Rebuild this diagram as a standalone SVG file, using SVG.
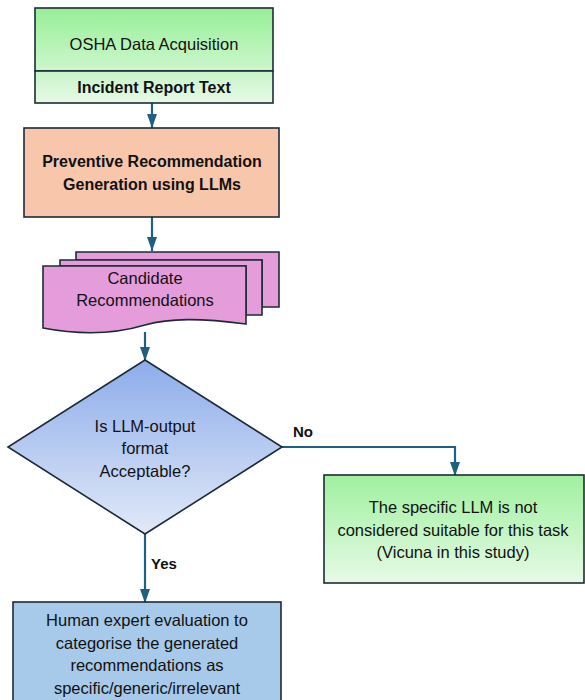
<svg xmlns="http://www.w3.org/2000/svg" width="585" height="700" viewBox="0 0 585 700">
<style>
.box{stroke:#1d2b36;stroke-width:1.6}
.t{font-family:"Liberation Sans",Arial,sans-serif;font-size:16.5px;fill:#111;text-anchor:middle}
.b{font-weight:bold;font-size:16px}
.c{fill:none;stroke:#1f5f80;stroke-width:2.2}
.lbl{font-family:"Liberation Sans",Arial,sans-serif;font-size:15px;font-weight:bold;fill:#111}
</style>
<defs>
<linearGradient id="g1" x1="0" y1="0" x2="0" y2="1"><stop offset="0" stop-color="#97ef97"/><stop offset="1" stop-color="#cdf6cd"/></linearGradient>
<linearGradient id="g2" x1="0" y1="0" x2="0" y2="1"><stop offset="0" stop-color="#c7f4c7"/><stop offset="1" stop-color="#e6fae6"/></linearGradient>
<linearGradient id="g3" x1="0" y1="0" x2="0" y2="1"><stop offset="0" stop-color="#8cacea"/><stop offset="1" stop-color="#e2e9f8"/></linearGradient>
<linearGradient id="g4" x1="0" y1="0" x2="0" y2="1"><stop offset="0" stop-color="#9ff09f"/><stop offset="1" stop-color="#e6fae6"/></linearGradient>
<marker id="ah" viewBox="0 0 14 10" refX="14" refY="5" markerWidth="6.5" markerHeight="4.6" orient="auto" markerUnits="strokeWidth"><path d="M0,0 L14,5 L0,10 z" fill="#1f5f80"/></marker>
</defs>
<g id="connectors">
<path class="c" d="M152,103 V128" marker-end="url(#ah)"/>
<path class="c" d="M152,217 V251" marker-end="url(#ah)"/>
<path class="c" d="M145,332 V361" marker-end="url(#ah)"/>
<path class="c" d="M282,447 H455 V476" marker-end="url(#ah)"/>
<path class="c" d="M145,534 V603" marker-end="url(#ah)"/>
<text class="lbl" x="293" y="437">No</text>
<text class="lbl" x="151" y="569">Yes</text>
</g>
<g id="osha">
<rect class="box" x="35" y="8" width="238" height="63" fill="url(#g1)"/>
<rect class="box" x="35" y="71" width="238" height="32" fill="url(#g2)"/>
<text class="t" x="154" y="50">OSHA Data Acquisition</text>
<text class="t b" x="154" y="93">Incident Report Text</text>
</g>
<g id="generation">
<rect class="box" x="24" y="128" width="255" height="89" fill="#f7c6ab"/>
<text class="t b" x="152" y="167">Preventive Recommendation</text>
<text class="t b" x="152" y="190">Generation using LLMs</text>
</g>
<g id="candidates">
<path class="box" d="M76,252 H279 V307 H262 V260 H76 Z" fill="#e49cdb"/>
<path class="box" d="M60,260 H262 V315 H246 V266 H60 Z" fill="#e49cdb"/>
<path class="box" d="M43,266 H246 V324 C200,318 170,318 145,325 C115,334 80,335 43,328 Z" fill="#e49cdb"/>
<text class="t" x="145" y="284">Candidate</text>
<text class="t" x="145" y="306">Recommendations</text>
</g>
<g id="decision">
<path class="box" d="M145,360 L282,447 L145,534 L8,447 Z" fill="url(#g3)"/>
<text class="t" x="145" y="432">Is LLM-output</text>
<text class="t" x="145" y="454">format</text>
<text class="t" x="145" y="477">Acceptable?</text>
</g>
<g id="unsuitable">
<rect class="box" x="324" y="475" width="260" height="108" fill="url(#g4)"/>
<text class="t" x="453" y="513">The specific LLM is not</text>
<text class="t" x="453" y="536">considered suitable for this task</text>
<text class="t" x="453" y="558">(Vicuna in this study)</text>
</g>
<g id="evaluation">
<rect class="box" x="13" y="602" width="268" height="110" fill="#a7c9ea"/>
<text class="t" x="147" y="626">Human expert evaluation to</text>
<text class="t" x="147" y="649">categorise the generated</text>
<text class="t" x="147" y="671">recommendations as</text>
<text class="t" x="147" y="694">specific/generic/irrelevant</text>
</g>
</svg>
